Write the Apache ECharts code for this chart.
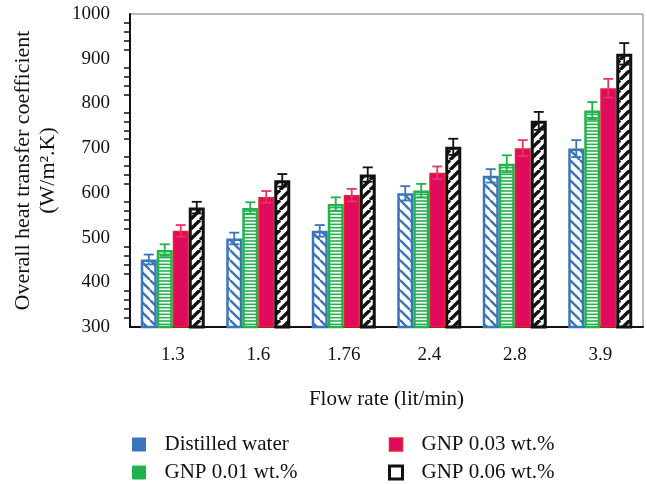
<!DOCTYPE html>
<html>
<head>
<meta charset="utf-8">
<script src="https://cdn.jsdelivr.net/npm/echarts@6/dist/echarts.min.js"></script>
<style>
  html, body { margin: 0; padding: 0; background: #fff; }
  #chart { width: 647px; height: 485px; }
</style>
</head>
<body>
<div id="chart"></div>
<script>
// flow rate categories (lit/min)
var flowRates = ['1.3', '1.6', '1.76', '2.4', '2.8', '3.9'];

// overall heat transfer coefficient (W/m2.K)
var water = [451, 498, 515, 599, 638, 699];
var gnp001 = [472, 566, 575, 605, 665, 784];
var gnp003 = [515, 591, 595, 645, 700, 834];
var gnp006 = [567, 628, 641, 703, 761, 911];

// error bar half-lengths
var waterErr = [11, 13, 13, 16, 15, 19];
var gnp001Err = [13, 13, 15, 15, 19, 19];
var gnp003Err = [13, 13, 14, 14, 18, 21];
var gnp006Err = [13, 14, 16, 18, 20, 24];

var seriesNames = ['Distilled water', 'GNP 0.01 wt.%', 'GNP 0.03 wt.%', 'GNP 0.06 wt.%'];

var FONT = 'Liberation Serif';
var BAR_W = 16;

function hatch(type, color) {
  var c = document.createElement('canvas');
  var s = 10;
  c.width = s; c.height = s;
  var g = c.getContext('2d');
  g.fillStyle = '#fff';
  g.fillRect(0, 0, s, s);
  g.strokeStyle = color;
  if (type === 'back') {
    g.lineWidth = 2.4;
    for (var k = -1; k <= 1; k++) {
      g.beginPath(); g.moveTo(k * s, 0); g.lineTo(k * s + s, s); g.stroke();
    }
  } else if (type === 'fwd') {
    g.lineWidth = 3.4;
    for (var k = -1; k <= 1; k++) {
      g.beginPath(); g.moveTo(k * s, s); g.lineTo(k * s + s, 0); g.stroke();
    }
  } else {
    g.lineWidth = 1.6;
    for (var y = 1; y < s; y += 3.33) {
      g.beginPath(); g.moveTo(0, y); g.lineTo(s, y); g.stroke();
    }
  }
  return { image: c, repeat: 'repeat' };
}

var barColors = ['#3a74ba', '#22b24c', '#e4262c', '#111111'];
var errColors = ['#3a74ba', '#22b24c', '#e8336b', '#111111'];

function bar(k, vals, fill, border, bw) {
  return {
    name: seriesNames[k],
    type: 'bar',
    data: vals,
    barWidth: BAR_W,
    barGap: '0%',
    itemStyle: { color: fill, borderColor: border, borderWidth: bw },
    z: 2
  };
}

function errBars(k, vals, errs) {
  return {
    type: 'custom',
    data: vals.map(function (v, i) { return [i, v, errs[i]]; }),
    encode: { x: 0, y: 1 },
    z: 5,
    silent: true,
    renderItem: function (params, api) {
      var i = api.value(0), v = api.value(1), e = api.value(2);
      var hi = api.coord([i, v + e]);
      var lo = api.coord([i, v - e]);
      var x = hi[0] + (k - 1.5) * BAR_W;
      var st = { stroke: errColors[k], lineWidth: 1.8 };
      return {
        type: 'group',
        children: [
          { type: 'line', shape: { x1: x, y1: hi[1], x2: x, y2: lo[1] }, style: st },
          { type: 'line', shape: { x1: x - 5, y1: hi[1], x2: x + 5, y2: hi[1] }, style: st },
          { type: 'line', shape: { x1: x - 5, y1: lo[1], x2: x + 5, y2: lo[1] }, style: st }
        ]
      };
    }
  };
}

var legendText = { fontFamily: FONT, fontSize: 21, color: '#111', padding: [0, 0, 0, 14] };
var legendIcons = [
  { color: '#3a74ba', borderColor: '#3a74ba', borderWidth: 1 },
  { color: '#22b24c', borderColor: '#22b24c', borderWidth: 1 },
  { color: '#e00b5c', borderColor: '#e4262c', borderWidth: 1.5 },
  { color: '#fff', borderColor: '#111', borderWidth: 3 }
];
function legendItem(k) {
  return { name: seriesNames[k], icon: 'rect', itemStyle: legendIcons[k] };
}

var chart = echarts.init(document.getElementById('chart'));
chart.setOption({
  backgroundColor: '#fff',
  animation: false,
  grid: { left: 130, right: 4, top: 14, bottom: 158, show: true, borderColor: '#777', borderWidth: 1 },
  legend: [{
    data: [legendItem(0), legendItem(1)],
    orient: 'vertical', left: 132, top: 434, padding: 0,
    itemWidth: 13, itemHeight: 13, itemGap: 7,
    textStyle: legendText
  }, {
    data: [legendItem(2), legendItem(3)],
    orient: 'vertical', left: 388, top: 434, padding: 0,
    itemWidth: 13, itemHeight: 13, itemGap: 7,
    textStyle: legendText
  }],
  xAxis: [{
    type: 'category',
    data: flowRates,
    name: 'Flow rate (lit/min)',
    nameLocation: 'middle',
    nameGap: 62,
    nameTextStyle: { fontFamily: FONT, fontSize: 21, color: '#111' },
    axisLine: { lineStyle: { color: '#111', width: 2 } },
    axisTick: { length: 9, lineStyle: { color: '#111', width: 2 } },
    axisLabel: { fontFamily: FONT, fontSize: 19, color: '#111', margin: 19 }
  }, {
    type: 'category',
    data: flowRates,
    position: 'bottom',
    axisLine: { show: false },
    axisTick: { alignWithLabel: true, length: 6, lineStyle: { color: '#111', width: 2 } },
    axisLabel: { show: false }
  }],
  yAxis: {
    type: 'value',
    min: 300, max: 1000, interval: 100,
    name: 'Overall heat transfer coefficient\n(W/m\u00b2.K)',
    nameLocation: 'middle',
    nameGap: 69,
    nameTextStyle: { fontFamily: FONT, fontSize: 22, color: '#111', lineHeight: 25 },
    axisLine: { show: true, lineStyle: { color: '#111', width: 2 } },
    axisTick: { length: 10, lineStyle: { color: '#111', width: 2 } },
    minorTick: { show: true, splitNumber: 5, length: 6, lineStyle: { color: '#111', width: 1.5 } },
    splitLine: { show: false },
    axisLabel: { fontFamily: FONT, fontSize: 19, color: '#111', margin: 20, formatter: function (v) { return String(v); } }
  },
  series: [
    bar(0, water, hatch('back', barColors[0]), barColors[0], 2.5),
    bar(1, gnp001, hatch('horiz', barColors[1]), barColors[1], 2.5),
    bar(2, gnp003, '#e00b5c', barColors[2], 1.5),
    bar(3, gnp006, hatch('fwd', barColors[3]), barColors[3], 3),
    errBars(0, water, waterErr),
    errBars(1, gnp001, gnp001Err),
    errBars(2, gnp003, gnp003Err),
    errBars(3, gnp006, gnp006Err)
  ]
});
</script>
</body>
</html>
